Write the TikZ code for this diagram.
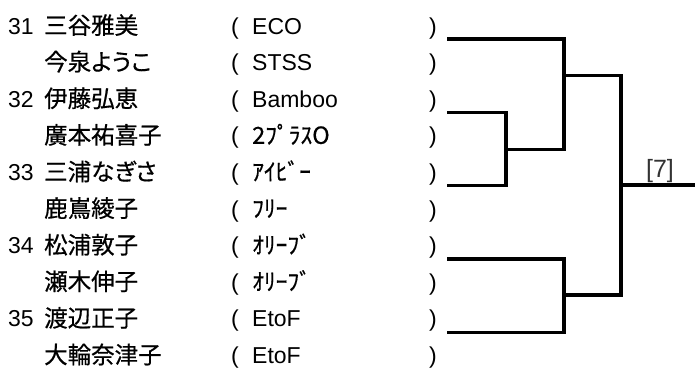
\documentclass[tikz,border=0pt]{standalone}
\usepackage{fontspec}
\setmainfont{Liberation Sans}
\newfontfamily\jp{Noto Sans CJK JP}[RawFeature=+palt,FakeBold=0.6]
\newcommand{\latsz}{\fontsize{23}{24}\selectfont}
\newcommand{\jpsz}{\fontsize{23.5}{24}\selectfont\jp}
\begin{document}
\begin{tikzpicture}[x=1pt,y=-1pt,
  txt/.style={anchor=base west,inner sep=0pt},
  lat/.style={txt,font=\latsz},
  jpn/.style={txt,font=\jpsz},
  br/.style={line width=3.2pt,line join=miter},
  lbl/.style={inner sep=0pt,font=\fontsize{25}{26}\selectfont,text=black!80}]
\useasboundingbox (0,0) rectangle (695,367);
% rows: baseline = centre + 8.5
\foreach \i/\num/\name/\club/\isjp in {
  0/31/三谷雅美/ECO/0,
  1//今泉ようこ/STSS/0,
  2/32/伊藤弘恵/Bamboo/0,
  3//廣本祐喜子/{2ﾌﾟﾗｽO}/1,
  4/33/三浦なぎさ/ｱｲﾋﾞｰ/1,
  5//鹿嶌綾子/ﾌﾘｰ/1,
  6/34/松浦敦子/ｵﾘｰﾌﾞ/1,
  7//瀬木伸子/ｵﾘｰﾌﾞ/1,
  8/35/渡辺正子/EtoF/0,
  9//大輪奈津子/EtoF/0}{
  \pgfmathsetmacro{\yy}{25.5+36.6*\i+8.5}
  \node[lat] (n\i) at (8,\yy) {\num};
  \node[jpn] (name\i) at (44,\yy) {\name};
  \node[lat] (lp\i) at (231,\yy) {(};
  \ifnum\isjp=1
    \node[jpn] (club\i) at (252,\yy) {\club};
  \else
    \node[lat] (club\i) at (252,\yy) {\club};
  \fi
  \node[lat] (rp\i) at (429,\yy) {)};
}
% bracket points
\coordinate (e0) at (447,39);
\coordinate (e2) at (447,112.5);
\coordinate (e4) at (447,185.5);
\coordinate (e6) at (447,259);
\coordinate (e8) at (447,332.5);
\coordinate (m24) at (506,149.5);
\coordinate (q1) at (564,149.5);
\coordinate (r1) at (564,75.3);
\coordinate (r2) at (564,295);
\coordinate (f) at (621,185);
\coordinate (w) at (695,185);
\draw[br] (e2) -| (m24) |- (e4);
\draw[br] (e0) -| (q1) -- (m24);
\draw[br] (e6) -| (r2) |- (e8);
\draw[br] (r1) -| (f) |- (r2);
\draw[br] (f) -- (w);
\node[lbl] (res) at (660,171) {[7]};
\end{tikzpicture}
\end{document}
